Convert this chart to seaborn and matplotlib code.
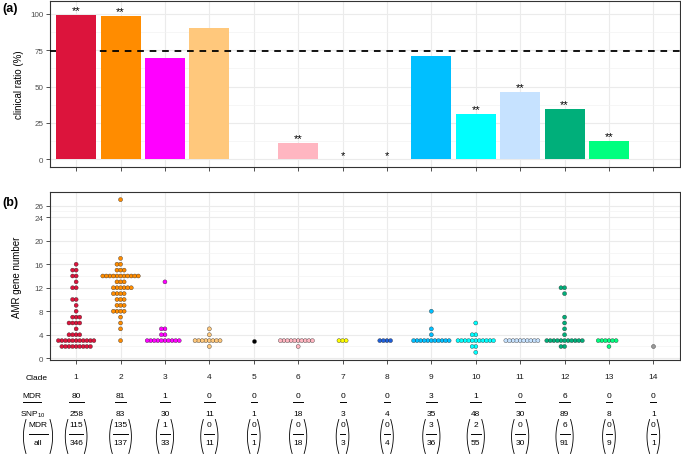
import matplotlib
matplotlib.use("Agg")
import matplotlib.pyplot as plt
import matplotlib.transforms as mtransforms
from matplotlib.ticker import FixedLocator
import numpy as np
import pandas as pd
import seaborn as sns

# ---------------------------------------------------------------
# data
# ---------------------------------------------------------------
clades = [str(i) for i in range(1, 15)]
clade_colors = ["#DC143C", "#FF8C00", "#FF00FF", "#FFC87C", "#000000", "#FFB6C1", "#FFFF00",
                "#1E5FD9", "#00BFFF", "#00FFFF", "#C6E2FF", "#00AF7A", "#00FF7F", "#999999"]

clinical_ratio = [99.3, 98.6, 69.9, 90.5, 0, 11.1, 0, 0, 71.2, 31.3, 46.5, 34.7, 12.5, 0]
signif = ["**", "**", "", "", "", "**", "*", "*", "", "**", "**", "**", "**", ""]
overall_ratio = 74.1

mdr_snp = [80, 81, 1, 0, 0, 0, 0, 0, 3, 1, 0, 6, 0, 0]
n_snp = [258, 83, 30, 11, 1, 18, 3, 4, 35, 48, 30, 89, 8, 1]
mdr_all = [115, 135, 1, 0, 0, 0, 0, 0, 3, 2, 0, 6, 0, 0]
n_all = [346, 137, 33, 11, 1, 18, 3, 4, 36, 55, 30, 91, 9, 1]

# AMR gene number per isolate (as visible in the swarm)
amr_c1 = [2]*9 + [3]*11 + [4]*4 + [5] + [6]*4 + [7]*3 + [8, 9] + [10]*2 + [12]*2 + [13] + [14]*2 + [15]*2 + [16]
amr_c2 = [3, 5, 6, 7] + [8]*4 + [9]*3 + [10]*3 + [11]*4 + [12]*6 + [13]*3 + [14]*11 + [15]*3 + [16]*2 + [17, 27]
amr_c3 = [3]*10 + [4]*2 + [5]*2 + [13]
amr_c4 = [2] + [3]*8 + [4, 5]
amr_c5 = [3]
amr_c6 = [2] + [3]*10
amr_c7 = [3]*3
amr_c8 = [3]*4
amr_c9 = [3]*11 + [4, 5, 8]
amr_c10 = [1] + [2]*2 + [3]*11 + [4]*2 + [6]
amr_c11 = [3]*10
amr_c12 = [2]*2 + [3]*11 + [4, 5, 6, 7, 11] + [12]*2
amr_c13 = [2] + [3]*6
amr_c14 = [2]

amr_lists = [amr_c1, amr_c2, amr_c3, amr_c4, amr_c5, amr_c6, amr_c7,
             amr_c8, amr_c9, amr_c10, amr_c11, amr_c12, amr_c13, amr_c14]
df_amr = pd.DataFrame({
    "clade": [c for c, vals in zip(clades, amr_lists) for _ in vals],
    "amr": [v for vals in amr_lists for v in vals],
})

# ---------------------------------------------------------------
# style
# ---------------------------------------------------------------
plt.rcParams["font.family"] = ["Liberation Sans", "DejaVu Sans"]
plt.rcParams["mathtext.fontset"] = "custom"
plt.rcParams["mathtext.rm"] = "Liberation Sans"
plt.rcParams["mathtext.it"] = "Liberation Sans:italic"
plt.rcParams["mathtext.bf"] = "Liberation Sans:bold"

W, H = 681, 456
fig = plt.figure(figsize=(W / 100, H / 100), dpi=100)


def box(l, t, r, b):
    return [l / W, 1 - b / H, (r - l) / W, (b - t) / H]


def fy(px):
    return 1 - px / H


ax_a = fig.add_axes(box(49.5, 2, 680, 168))
ax_b = fig.add_axes(box(49.5, 193, 680, 361))

# ---------------------------------------------------------------
# (a) clinical ratio bars
# ---------------------------------------------------------------
sns.barplot(x=clades, y=clinical_ratio, hue=clades, order=clades, hue_order=clades,
            palette=clade_colors, width=0.9, saturation=1, legend=False, ax=ax_a, zorder=2)
ax_a.axhline(overall_ratio, color="black", lw=1.3, dashes=(3.7, 3.2), zorder=3)
ax_a.patches[0].set_zorder(4)   # first bar sits over the reference line
for i, s in enumerate(signif):
    if s:
        ax_a.text(i, clinical_ratio[i] + 3.3, s, ha="center", va="center", fontsize=8, zorder=5)

# ---------------------------------------------------------------
# (b) AMR gene number swarm
# ---------------------------------------------------------------
sns.swarmplot(data=df_amr, x="clade", y="amr", hue="clade", order=clades, hue_order=clades,
              palette=clade_colors, size=2.2, edgecolor="#222222", linewidth=0.25,
              legend=False, ax=ax_b, zorder=3)

for ax in (ax_a, ax_b):
    ax.set_xlabel("")
    ax.set_axisbelow(True)
    for sp in ax.spines.values():
        sp.set_color("#333333")
        sp.set_linewidth(0.8)
    ax.tick_params(which="major", length=2.6, width=0.6, color="#333333",
                   labelsize=5.8, labelcolor="#4D4D4D", pad=1.8)
    ax.tick_params(which="minor", length=0)
    ax.grid(which="major", color="#EBEBEB", lw=0.8)
    ax.grid(which="minor", axis="y", color="#F2F2F2", lw=0.45)

ax_a.set_yticks([0, 25, 50, 75, 100])
ax_a.yaxis.set_minor_locator(FixedLocator([12.5, 37.5, 62.5, 87.5]))
ax_a.tick_params(axis="x", labelbottom=False)
ax_a.set_ylabel("clinical ratio (%)", fontsize=7)
ax_a.yaxis.set_label_coords(-0.040, 0.5)

ax_b.set_yticks([0, 4, 8, 12, 16, 20, 24, 26])
ax_b.yaxis.set_minor_locator(FixedLocator([2, 6, 10, 14, 18, 22, 25]))
ax_b.tick_params(axis="x", labelsize=6, labelcolor="#1A1A1A", pad=7)
ax_b.set_ylabel("AMR gene number", fontsize=7)
ax_b.yaxis.set_label_coords(-0.043, 0.5)

ax_a.set_xlim(-0.6, 13.6)
ax_a.set_ylim(-5.2, 108.7)
ax_b.set_xlim(-0.6, 13.6)
ax_b.set_ylim(-0.3, 28.3)

# ---------------------------------------------------------------
# table under panel (b)
# ---------------------------------------------------------------
tx = mtransforms.blended_transform_factory(ax_b.transData, fig.transFigure)
px_per_unit = 630 / 14.2
digit_px = 4.5


def paren(ax, xc, half_px, y_mid, trans):
    # thin round brackets around a stacked fraction
    t = np.linspace(-1, 1, 25)
    ys = [fy(y_mid + 17 * v) for v in t]
    bulge = 2.6 * (1 - t ** 2)
    for side in (-1, 1):
        xs = xc + side * (half_px + bulge) / px_per_unit
        ax.plot(xs, ys, transform=trans, color="black", lw=0.6, clip_on=False)


def stacked(ax, xc, top, bot, y_top, y_line, y_bot, trans, half_px):
    ax.text(xc, fy(y_top), top, transform=trans, ha="center", va="center", fontsize=6, clip_on=False)
    ax.text(xc, fy(y_bot), bot, transform=trans, ha="center", va="center", fontsize=6, clip_on=False)
    h = half_px / px_per_unit
    ax.plot([xc - h, xc + h], [fy(y_line)] * 2, transform=trans, color="black", lw=0.7, clip_on=False)


for i in range(len(clades)):
    top, bot = str(mdr_snp[i]), str(n_snp[i])
    stacked(ax_b, i, top, bot, 396.7, 403.3, 415, tx, (max(len(top), len(bot)) * digit_px + 1.5) / 2)
    top, bot = str(mdr_all[i]), str(n_all[i])
    hw = (max(len(top), len(bot)) * digit_px + 1.0) / 2
    stacked(ax_b, i, top, bot, 426, 434.5, 444, tx, hw)
    paren(ax_b, i, hw + 1.0, 437.5, tx)

# row labels (left margin, figure pixels)
fig.text(37 / W, fy(379), "Clade", ha="center", va="center", fontsize=6)
fig.text(32 / W, fy(396.7), "MDR", ha="center", va="center", fontsize=6)
fig.add_artist(plt.Line2D([23 / W, 41 / W], [fy(403.3)] * 2, color="black", lw=0.7))
fig.text(33 / W, fy(415), "SNP$_{10}$", ha="center", va="center", fontsize=6)
fig.text(38 / W, fy(426), "MDR", ha="center", va="center", fontsize=6)
fig.text(38 / W, fy(444), "all", ha="center", va="center", fontsize=6)
fig.add_artist(plt.Line2D([28.5 / W, 47.5 / W], [fy(434.5)] * 2, color="black", lw=0.7))
for side in (-1, 1):
    t = np.linspace(-1, 1, 25)
    xs = (38 + side * (12 + 2.6 * (1 - t ** 2))) / W
    fig.add_artist(plt.Line2D(xs, [fy(437.5 + 17 * v) for v in t], color="black", lw=0.6))

ax_b.set_xlim(-0.6, 13.6)

fig.text(2 / W, fy(9), "(a)", ha="left", va="center", fontsize=9, fontweight="bold")
fig.text(2 / W, fy(203), "(b)", ha="left", va="center", fontsize=9, fontweight="bold")

# lay the swarm out once, then show the dots a bit larger (they overlap in the original)
fig.canvas.draw()
for coll in ax_b.collections:
    coll.__dict__.pop("draw", None)
    coll.set_sizes([2.9 ** 2])

fig.savefig("out.png", dpi=100)
